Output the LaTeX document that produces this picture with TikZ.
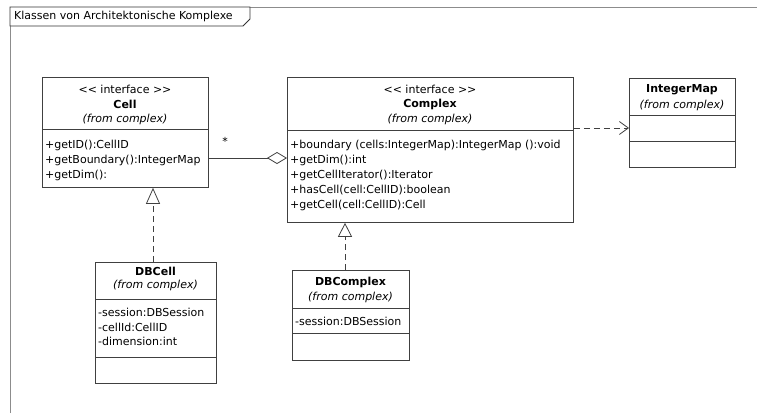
\documentclass[tikz,border=0pt]{standalone}
\usepackage{fontspec}
\setmainfont{DejaVu Sans}[Ligatures=TeXOff]
\usetikzlibrary{arrows.meta,calc}
\newcommand{\umlsize}{\fontsize{11}{12}\selectfont}
\tikzset{
  umlbox/.style={draw=black!75, line width=0.8pt, fill=white, inner sep=0pt, anchor=north west},
  divline/.style={draw=black!75, line width=0.8pt},
  txt/.style={inner sep=0pt, font=\umlsize},
  lefttxt/.style={txt, anchor=west},
  ctxt/.style={txt, anchor=center},
  boldtxt/.style={ctxt, font=\umlsize\bfseries},
  fromtxt/.style={ctxt, font=\umlsize\itshape},
  conn/.style={draw=black!75, line width=0.8pt},
  dashconn/.style={conn, dash pattern=on 6pt off 4pt},
}
\begin{document}
\begin{tikzpicture}[x=1pt,y=-1pt]
\useasboundingbox (0,0) rectangle (757,413);
\fill[white] (0,0) rectangle (757,413);
% frame
\draw[black!45, line width=0.8pt] (10,413) -- (10,7) -- (757,7);
\draw[black!80, line width=0.8pt, fill=white] (10,7) -- (250,7) -- (250,19) -- (243,26) -- (10,26) -- cycle;
\node[lefttxt] (title) at (14,16.5) {Klassen von Architektonische Komplexe};

% Cell
\node[umlbox, minimum width=166pt, minimum height=110pt] (cell) at (42,77) {};
\draw[divline] (42,129) -- (208,129);
\node[ctxt] (cellst) at (125,89) {<< interface >>};
\node[boldtxt] (cellnm) at (125,104) {Cell};
\node[fromtxt] (cellfr) at (125,119) {(from complex)};
\node[lefttxt] (cellm1) at (45,145) {+getID():CellID};
\node[lefttxt] (cellm2) at (45,160) {+getBoundary():IntegerMap};
\node[lefttxt] (cellm3) at (45,175) {+getDim():};

% Complex
\node[umlbox, minimum width=286pt, minimum height=145pt] (complex) at (287,77) {};
\draw[divline] (287,130) -- (573,130);
\node[ctxt] (cxst) at (430,89) {<< interface >>};
\node[boldtxt] (cxnm) at (430,104) {Complex};
\node[fromtxt] (cxfr) at (430,119) {(from complex)};
\node[lefttxt] (cxm1) at (290,145) {+boundary (cells:IntegerMap):IntegerMap ():void};
\node[lefttxt] (cxm2) at (290,160) {+getDim():int};
\node[lefttxt] (cxm3) at (290,175) {+getCellIterator():Iterator};
\node[lefttxt] (cxm4) at (290,190) {+hasCell(cell:CellID):boolean};
\node[lefttxt] (cxm5) at (290,205) {+getCell(cell:CellID):Cell};

% IntegerMap
\node[umlbox, minimum width=106pt, minimum height=89pt] (imap) at (629,78) {};
\draw[divline] (629,115) -- (735,115);
\draw[divline] (629,141) -- (735,141);
\node[boldtxt] (imnm) at (682,90) {IntegerMap};
\node[fromtxt] (imfr) at (682,105) {(from complex)};

% DBCell
\node[umlbox, minimum width=121pt, minimum height=121pt] (dbcell) at (95,262) {};
\draw[divline] (95,299) -- (216,299);
\draw[divline] (95,357) -- (216,357);
\node[boldtxt] (dbcnm) at (155.5,271) {DBCell};
\node[fromtxt] (dbcfr) at (155.5,285) {(from complex)};
\node[lefttxt] (dbca1) at (98,312) {-session:DBSession};
\node[lefttxt] (dbca2) at (98,327) {-cellId:CellID};
\node[lefttxt] (dbca3) at (98,341) {-dimension:int};

% DBComplex
\node[umlbox, minimum width=117pt, minimum height=90pt] (dbcx) at (292,270) {};
\draw[divline] (292,308) -- (409,308);
\draw[divline] (292,333) -- (409,333);
\node[boldtxt] (dbxnm) at (350.5,282) {DBComplex};
\node[fromtxt] (dbxfr) at (350.5,297) {(from complex)};
\node[lefttxt] (dbxa1) at (295,321) {-session:DBSession};

% connectors
\coordinate (aggy) at (0,158);
\draw[conn, -{Diamond[open,length=20pt,width=12pt]}] (cell.east |- aggy) -- (complex.west |- aggy);
\node[ctxt] (star) at (225,141) {*};

\coordinate (depy) at (0,128);
\draw[dashconn, -{Straight Barb[length=9pt,width=13pt]}] (complex.east |- depy) -- (imap.west |- depy);

\coordinate (r1x) at (153,0);
\draw[dashconn, -{Triangle[open,length=16pt,width=14pt]}] (r1x |- dbcell.north) -- (r1x |- cell.south);
\coordinate (r2x) at (345,0);
\draw[dashconn, -{Triangle[open,length=14pt,width=14pt]}] (r2x |- dbcx.north) -- (r2x |- complex.south);
\end{tikzpicture}
\end{document}
